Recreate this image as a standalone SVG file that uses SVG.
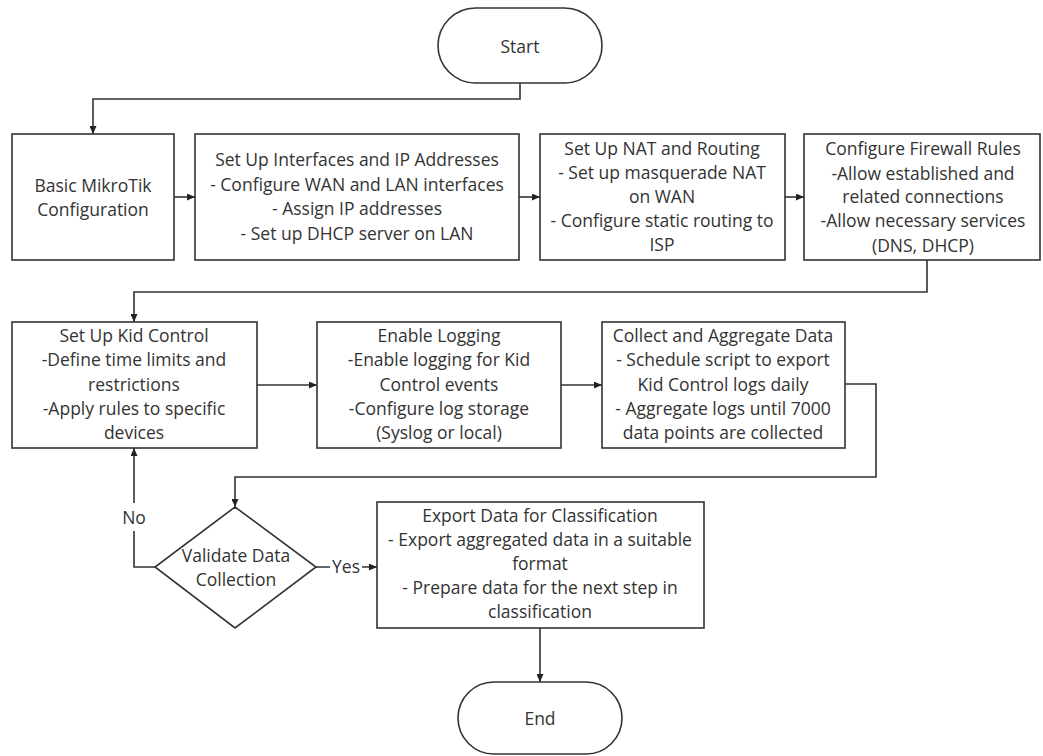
<svg xmlns="http://www.w3.org/2000/svg" width="1043" height="756" viewBox="0 0 1043 756">
<style>
.box{fill:#fff;stroke:#333;stroke-width:1.6}
.ln{fill:none;stroke:#333;stroke-width:1.6}
text{font-family:"Open Sans","Noto Sans",sans-serif;font-size:17.5px;fill:#333;text-anchor:middle}
.lbl{fill:#fff;stroke:none}
</style>
<defs>
<marker id="ah" viewBox="0 0 10 10" refX="10" refY="5" markerWidth="8" markerHeight="7" orient="auto" markerUnits="userSpaceOnUse" preserveAspectRatio="none">
<path d="M0,0 L10,5 L0,10 z" fill="#222"/>
</marker>
</defs>
<rect width="1043" height="756" fill="#fff"/>
<g id="connectors">
<path class="ln" d="M520,83 V99 H93 V134" marker-end="url(#ah)"/>
<path class="ln" d="M174,197 H195" marker-end="url(#ah)"/>
<path class="ln" d="M519,197 H540" marker-end="url(#ah)"/>
<path class="ln" d="M785,197 H804" marker-end="url(#ah)"/>
<path class="ln" d="M927,260 V292 H134 V322" marker-end="url(#ah)"/>
<path class="ln" d="M257,385 H317" marker-end="url(#ah)"/>
<path class="ln" d="M561,385 H602" marker-end="url(#ah)"/>
<path class="ln" d="M845,384 H876 V477 H235 V507" marker-end="url(#ah)"/>
<path class="ln" d="M155,567 H134 V448" marker-end="url(#ah)"/>
<path class="ln" d="M316,567 H377" marker-end="url(#ah)"/>
<path class="ln" d="M540,628 V682" marker-end="url(#ah)"/>
<rect class="lbl" x="120" y="503" width="28" height="28"/>
<text x="134" y="524">No</text>
<rect class="lbl" x="330" y="557" width="32" height="20"/>
<text x="346" y="573">Yes</text>
</g>
<g id="start">
<rect class="box" x="438" y="8" width="164" height="75" rx="37.5"/>
<text x="520" y="53">Start</text>
</g>
<g id="basic-config">
<rect class="box" x="12" y="134" width="162" height="126"/>
<text x="93" y="192">Basic MikroTik</text>
<text x="93" y="216">Configuration</text>
</g>
<g id="interfaces">
<rect class="box" x="195" y="134" width="324" height="126"/>
<text x="357" y="166">Set Up Interfaces and IP Addresses</text>
<text x="357" y="191">- Configure WAN and LAN interfaces</text>
<text x="357" y="215">- Assign IP addresses</text>
<text x="357" y="240">- Set up DHCP server on LAN</text>
</g>
<g id="nat">
<rect class="box" x="540" y="134" width="245" height="126"/>
<text x="662" y="155">Set Up NAT and Routing</text>
<text x="662" y="179">- Set up masquerade NAT</text>
<text x="662" y="203">on WAN</text>
<text x="662" y="227">- Configure static routing to</text>
<text x="662" y="251">ISP</text>
</g>
<g id="firewall">
<rect class="box" x="804" y="134" width="236" height="126"/>
<text x="923" y="155">Configure Firewall Rules</text>
<text x="923" y="180">-Allow established and</text>
<text x="923" y="203">related connections</text>
<text x="923" y="227">-Allow necessary services</text>
<text x="923" y="252">(DNS, DHCP)</text>
</g>
<g id="kid-control">
<rect class="box" x="12" y="322" width="245" height="126"/>
<text x="134" y="342">Set Up Kid Control</text>
<text x="134" y="366">-Define time limits and</text>
<text x="134" y="391">restrictions</text>
<text x="134" y="415">-Apply rules to specific</text>
<text x="134" y="439">devices</text>
</g>
<g id="logging">
<rect class="box" x="317" y="322" width="244" height="126"/>
<text x="439" y="342">Enable Logging</text>
<text x="439" y="366">-Enable logging for Kid</text>
<text x="439" y="391">Control events</text>
<text x="439" y="415">-Configure log storage</text>
<text x="439" y="439">(Syslog or local)</text>
</g>
<g id="collect">
<rect class="box" x="602" y="322" width="243" height="126"/>
<text x="723" y="342">Collect and Aggregate Data</text>
<text x="723" y="366">- Schedule script to export</text>
<text x="723" y="391">Kid Control logs daily</text>
<text x="723" y="415">- Aggregate logs until 7000</text>
<text x="723" y="439">data points are collected</text>
</g>
<g id="validate">
<path class="box" d="M235,507 L316,567 L235,628 L155,567 Z"/>
<text x="236" y="562">Validate Data</text>
<text x="236" y="586">Collection</text>
</g>
<g id="export">
<rect class="box" x="377" y="502" width="327" height="126"/>
<text x="540" y="522">Export Data for Classification</text>
<text x="540" y="546">- Export aggregated data in a suitable</text>
<text x="540" y="570">format</text>
<text x="540" y="594">- Prepare data for the next step in</text>
<text x="540" y="618">classification</text>
</g>
<g id="end">
<rect class="box" x="458" y="682" width="164" height="72" rx="36"/>
<text x="540" y="725">End</text>
</g>
</svg>
